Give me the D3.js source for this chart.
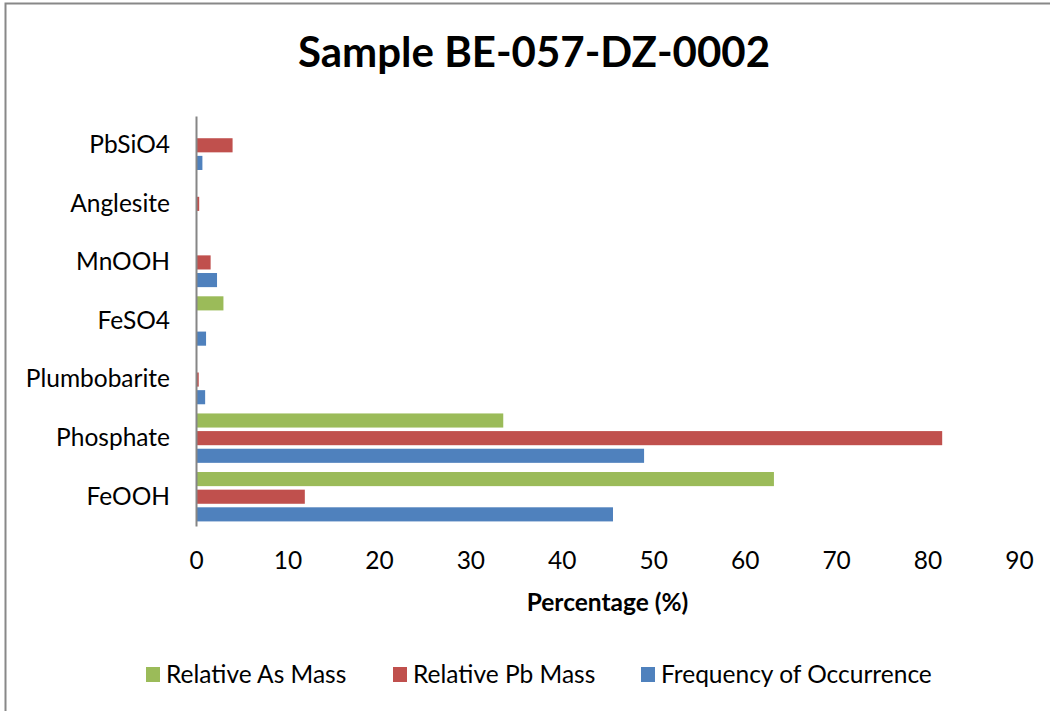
<!DOCTYPE html>
<html>
<head>
<meta charset="utf-8">
<script src="https://cdn.jsdelivr.net/npm/d3@7"></script>
<style>
  html, body { margin: 0; padding: 0; background: #fff; }
  svg { display: block; }
  text { font-family: Lato, "Open Sans", "Liberation Sans", sans-serif; fill: #000; }
</style>
</head>
<body>
<svg id="chart" width="1050" height="711"></svg>
<script>
// ---- data ----
const categories = ["FeOOH", "Phosphate", "Plumbobarite", "FeSO4", "MnOOH", "Anglesite", "PbSiO4"];
const seriesNames = ["Frequency of Occurrence", "Relative Pb Mass", "Relative As Mass"];
const frequencyOfOccurrence = [45.6, 49.0, 1.0, 1.1, 2.3, 0, 0.7];
const relativePbMass = [11.9, 81.6, 0.3, 0.1, 1.6, 0.35, 4.0];
const relativeAsMass = [63.2, 33.6, 0, 3.0, 0.1, 0, 0];
const xTicks = [0, 10, 20, 30, 40, 50, 60, 70, 80, 90];
const legendOrder = ["Relative As Mass", "Relative Pb Mass", "Frequency of Occurrence"];
const colors = {
  "Frequency of Occurrence": "#4F81BD",
  "Relative Pb Mass": "#C0504D",
  "Relative As Mass": "#9BBB59"
};
const titleText = "Sample BE-057-DZ-0002";
const xAxisTitle = "Percentage (%)";

const seriesValues = {
  "Frequency of Occurrence": frequencyOfOccurrence,
  "Relative Pb Mass": relativePbMass,
  "Relative As Mass": relativeAsMass
};

// ---- layout ----
const svg = d3.select("#chart");
const plot = { left: 196, right: 1019, top: 116, bottom: 526 };
const fs = 24.5;

// outer border
svg.append("rect")
  .attr("x", 5.5).attr("y", 3.5)
  .attr("width", 1060).attr("height", 720)
  .attr("fill", "none").attr("stroke", "#888888").attr("stroke-width", 2);

// title
svg.append("text")
  .attr("x", 534).attr("y", 67)
  .attr("text-anchor", "middle")
  .attr("font-weight", "bold")
  .attr("font-size", 42)
  .text(titleText);

const x = d3.scaleLinear().domain([0, 90]).range([plot.left, plot.right]);
const y = d3.scaleBand().domain(categories).range([plot.bottom, plot.top]).paddingInner(0).paddingOuter(0);
// within a category: As on top, Pb middle, Frequency bottom
const ySub = d3.scaleBand()
  .domain(["Relative As Mass", "Relative Pb Mass", "Frequency of Occurrence"])
  .range([0, y.bandwidth()])
  .paddingInner(0.2)
  .paddingOuter(0.26);

// bars
const rows = [];
seriesNames.forEach(s => {
  categories.forEach((c, i) => rows.push({ series: s, category: c, value: seriesValues[s][i] }));
});

svg.append("g").selectAll("rect")
  .data(rows.filter(d => d.value > 0))
  .join("rect")
  .attr("x", x(0))
  .attr("y", d => y(d.category) + ySub(d.series))
  .attr("width", d => x(d.value) - x(0))
  .attr("height", ySub.bandwidth())
  .attr("fill", d => colors[d.series]);

// vertical category axis
const yAxis = d3.axisLeft(y).tickSize(0).tickPadding(26);
const yg = svg.append("g").attr("transform", `translate(${plot.left},0)`).call(yAxis);
yg.select(".domain").attr("stroke", "#868686").attr("stroke-width", 2);
yg.selectAll("text").attr("font-size", fs).attr("font-family", "Lato, 'Open Sans', sans-serif").attr("fill", "#000");

// x axis (labels only)
const xAxis = d3.axisBottom(x).tickValues(xTicks).tickSize(0).tickPadding(26).tickFormat(d3.format("d"));
const xg = svg.append("g").attr("transform", `translate(0,${plot.bottom})`).call(xAxis);
xg.select(".domain").remove();
xg.selectAll("text").attr("font-size", fs).attr("font-family", "Lato, 'Open Sans', sans-serif").attr("fill", "#000");

// x axis title
svg.append("text")
  .attr("x", (plot.left + plot.right) / 2).attr("y", 611)
  .attr("text-anchor", "middle")
  .attr("font-weight", "bold")
  .attr("font-size", fs)
  .text(xAxisTitle);

// legend
const legendX = [146, 393, 641];
const lg = svg.append("g").selectAll("g")
  .data(legendOrder)
  .join("g")
  .attr("transform", (d, i) => `translate(${legendX[i]},667)`);
lg.append("rect").attr("width", 14).attr("height", 15).attr("fill", d => colors[d]);
lg.append("text").attr("x", 20).attr("y", 16).attr("font-size", fs).text(d => d);
</script>
</body>
</html>
